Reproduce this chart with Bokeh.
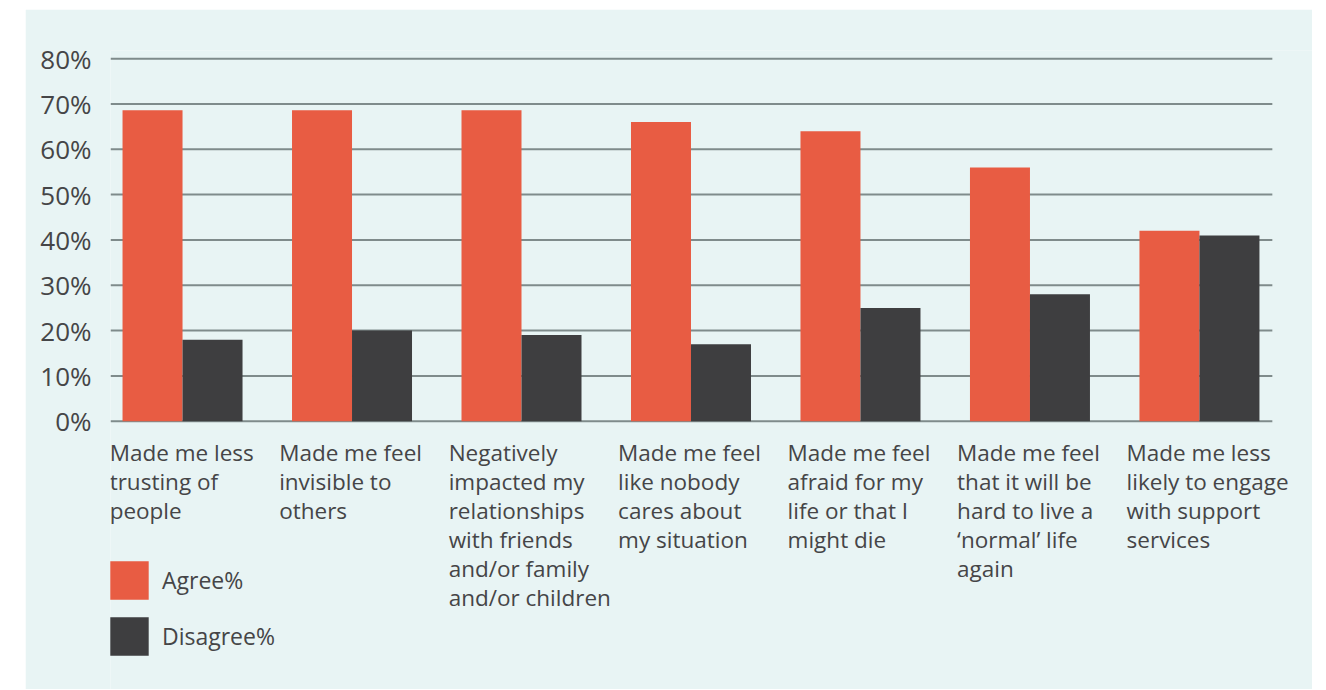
from bokeh.plotting import figure
from bokeh.models import (ColumnDataSource, Range1d, FixedTicker, Legend, LegendItem, Spacer)
from bokeh.core.properties import value
from bokeh.layouts import column, row
from bokeh.embed import file_html
from bokeh.resources import INLINE

# ---- data ----
categories = [
    "Made me less\ntrusting of\npeople",
    "Made me feel\ninvisible to\nothers",
    "Negatively\nimpacted my\nrelationships\nwith friends\nand/or family\nand/or children",
    "Made me feel\nlike nobody\ncares about\nmy situation",
    "Made me feel\nafraid for my\nlife or that I\nmight die",
    "Made me feel\nthat it will be\nhard to live a\n\u2018normal\u2019 life\nagain",
    "Made me less\nlikely to engage\nwith support\nservices",
]
agree = [68.6, 68.6, 68.6, 66, 64, 56, 42]
disagree = [18, 20, 19, 17, 25, 28, 41]
series_names = ["Agree%", "Disagree%"]
y_ticks = [0, 10, 20, 30, 40, 50, 60, 70, 80]
y_tick_labels = [f"{t}%" for t in y_ticks]

# ---- style ----
BG = "#E8F4F4"
RED = "#E85C43"
DARK = "#3E3E40"
GRID = "#7F8B8B"
TXT = "#454547"
FONT = "Open Sans"

BAR_W = 0.354
X_START, GRID_END, X_END = -0.425, 6.43, 6.667
idx = list(range(len(categories)))

src = ColumnDataSource(dict(
    x_agree=[i - BAR_W / 2 for i in idx],
    x_dis=[i + BAR_W / 2 for i in idx],
    agree=agree,
    disagree=disagree,
    lx=[i - 0.43 for i in idx],
    ly=[-3.4 for _ in idx],
    label=categories,
))
grid_src = ColumnDataSource(dict(y=y_ticks, x0=[X_START] * len(y_ticks),
                                 x1=[GRID_END] * len(y_ticks)))

p = figure(width=1287, height=680, output_backend="svg", toolbar_location=None,
           x_range=Range1d(X_START, X_END), y_range=Range1d(-59.2, 81.8),
           x_axis_location=None, min_border_left=85, min_border_right=0,
           min_border_top=41, min_border_bottom=0)
p.background_fill_color = BG
p.border_fill_color = BG
p.outline_line_color = None
p.xgrid.visible = False
p.ygrid.visible = False

# horizontal gridlines (stop short of the panel's right edge)
p.segment(x0="x0", x1="x1", y0="y", y1="y", source=grid_src,
          line_color=GRID, line_width=2)

ax = p.yaxis[0]
ax.ticker = FixedTicker(ticks=y_ticks)
ax.major_label_overrides = {t: l for t, l in zip(y_ticks, y_tick_labels)}
ax.axis_line_color = None
ax.major_tick_line_color = None
ax.minor_tick_line_color = None
ax.major_tick_out = 0
ax.major_tick_in = 0
ax.major_label_standoff = 19
ax.major_label_text_font = FONT
ax.major_label_text_font_size = "26px"
ax.major_label_text_color = TXT

r1 = p.vbar(x="x_agree", top="agree", bottom=0, width=BAR_W, source=src,
            fill_color=RED, line_color=None)
r2 = p.vbar(x="x_dis", top="disagree", bottom=0, width=BAR_W, source=src,
            fill_color=DARK, line_color=None)

p.text(x="lx", y="ly", text="label", source=src, text_align="left",
       text_baseline="top", text_font_size="22.5px", text_font=value(FONT),
       text_color=TXT, text_line_height=0.94)

legend = Legend(items=[LegendItem(label=series_names[0], renderers=[r1]),
                       LegendItem(label=series_names[1], renderers=[r2])],
                location=(-5, 29), glyph_width=48, glyph_height=48,
                label_standoff=9, spacing=8, padding=0, margin=0,
                border_line_color=None, background_fill_alpha=0,
                label_text_font=FONT, label_text_font_size="23px",
                label_text_color=TXT)
p.add_layout(legend)

layout = column(Spacer(height=9), row(Spacer(width=25), p))

open("out.html", "w").write(file_html(layout, INLINE))
